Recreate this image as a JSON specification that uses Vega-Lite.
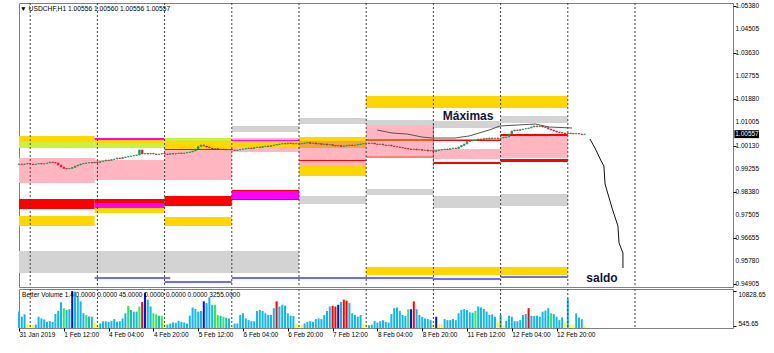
{
"$schema":"https://vega.github.io/schema/vega-lite/v6.json",
"background":"white",
"padding":{"left":17,"top":2,"right":0,"bottom":0},
"spacing":2,
"bounds":"flush",
"resolve":{"scale":{"color":"independent","x":"independent","y":"independent"}},
"config":{"view":{"stroke":"#808080","strokeWidth":1},"font":"Liberation Sans","scale":{"continuousPadding":0},"axis":{"labelFont":"Liberation Sans","labelFontSize":6.5,"labelColor":"#000","tickColor":"#000","tickSize":3,"domain":false,"grid":false,"title":null,"labelOverlap":false,"labelFlush":false}},
"datasets":{
"zonas":[
{"t0":0,"t1":100,"p0":0.95332,"p1":0.96160,"k":"F"},
{"t0":0,"t1":27,"p0":0.98719,"p1":0.99660,"k":"C"},
{"t0":27,"t1":52,"p0":0.98832,"p1":0.99585,"k":"C"},
{"t0":52,"t1":76,"p0":0.98832,"p1":0.99961,"k":"C"},
{"t0":76,"t1":100,"p0":0.99886,"p1":1.00412,"k":"C"},
{"t0":100,"t1":124,"p0":0.99359,"p1":1.00036,"k":"C"},
{"t0":124,"t1":148,"p0":0.99735,"p1":1.00902,"k":"C"},
{"t0":148,"t1":172,"p0":0.99622,"p1":0.99998,"k":"C"},
{"t0":172,"t1":196,"p0":0.99660,"p1":1.00488,"k":"C"},
{"t0":0,"t1":27,"p0":1.00262,"p1":1.00488,"k":"A"},
{"t0":0,"t1":27,"p0":1.00036,"p1":1.00262,"k":"B"},
{"t0":0,"t1":27,"p0":0.97740,"p1":0.98117,"k":"D"},
{"t0":0,"t1":27,"p0":0.97101,"p1":0.97477,"k":"A"},
{"t0":27,"t1":52,"p0":1.00337,"p1":1.00412,"k":"E"},
{"t0":27,"t1":52,"p0":1.00224,"p1":1.00337,"k":"A"},
{"t0":27,"t1":52,"p0":1.00036,"p1":1.00224,"k":"B"},
{"t0":27,"t1":52,"p0":0.97966,"p1":0.98117,"k":"D"},
{"t0":27,"t1":52,"p0":0.97778,"p1":0.97966,"k":"E"},
{"t0":27,"t1":52,"p0":0.97590,"p1":0.97778,"k":"A"},
{"t0":27,"t1":54,"p0":0.95115,"p1":0.95171,"k":"H"},
{"t0":52,"t1":76,"p0":1.00300,"p1":1.00412,"k":"B"},
{"t0":52,"t1":76,"p0":0.99998,"p1":1.00300,"k":"A"},
{"t0":52,"t1":76,"p0":0.99961,"p1":0.99998,"k":"D"},
{"t0":52,"t1":76,"p0":0.97853,"p1":0.98230,"k":"D"},
{"t0":52,"t1":76,"p0":0.97101,"p1":0.97439,"k":"A"},
{"t0":52,"t1":76,"p0":0.94965,"p1":0.95021,"k":"H"},
{"t0":76,"t1":100,"p0":1.00638,"p1":1.00864,"k":"F"},
{"t0":76,"t1":100,"p0":1.00036,"p1":1.00300,"k":"A"},
{"t0":76,"t1":100,"p0":1.00300,"p1":1.00337,"k":"E"},
{"t0":76,"t1":100,"p0":0.98079,"p1":0.98455,"k":"D"},
{"t0":76,"t1":100,"p0":0.98117,"p1":0.98418,"k":"E"},
{"t0":76,"t1":148,"p0":0.95115,"p1":0.95171,"k":"H"},
{"t0":100,"t1":124,"p0":1.00939,"p1":1.01165,"k":"F"},
{"t0":100,"t1":124,"p0":1.00300,"p1":1.00450,"k":"A"},
{"t0":100,"t1":124,"p0":1.00036,"p1":1.00300,"k":"G"},
{"t0":100,"t1":124,"p0":0.99547,"p1":0.99585,"k":"D"},
{"t0":100,"t1":124,"p0":0.98982,"p1":0.99359,"k":"A"},
{"t0":100,"t1":124,"p0":0.97928,"p1":0.98230,"k":"F"},
{"t0":124,"t1":196,"p0":1.01541,"p1":1.01993,"k":"A"},
{"t0":124,"t1":148,"p0":1.00902,"p1":1.01090,"k":"F"},
{"t0":124,"t1":148,"p0":1.00300,"p1":1.00375,"k":"I"},
{"t0":124,"t1":148,"p0":0.99679,"p1":0.99716,"k":"D"},
{"t0":124,"t1":148,"p0":0.98267,"p1":0.98493,"k":"F"},
{"t0":124,"t1":196,"p0":0.95257,"p1":0.95557,"k":"A"},
{"t0":148,"t1":172,"p0":1.00789,"p1":1.01052,"k":"F"},
{"t0":148,"t1":172,"p0":1.00300,"p1":1.00356,"k":"D"},
{"t0":148,"t1":172,"p0":0.99434,"p1":0.99509,"k":"D"},
{"t0":148,"t1":172,"p0":0.97778,"p1":0.98230,"k":"F"},
{"t0":148,"t1":172,"p0":0.95078,"p1":0.95134,"k":"H"},
{"t0":172,"t1":196,"p0":1.00977,"p1":1.01240,"k":"F"},
{"t0":172,"t1":196,"p0":1.00488,"p1":1.00563,"k":"D"},
{"t0":172,"t1":196,"p0":0.99509,"p1":0.99622,"k":"D"},
{"t0":172,"t1":196,"p0":0.97853,"p1":0.98305,"k":"F"},
{"t0":172,"t1":196,"p0":0.95153,"p1":0.95209,"k":"H"},
{"t0":147.8,"t1":148.2,"p0":0.99359,"p1":1.00977,"k":"J"}
],
"sep":[{"d":4},{"d":28},{"d":52},{"d":76},{"d":100},{"d":124},{"d":148},{"d":172},{"d":196},{"d":220}],
"precios":[{"v":1.0538},{"v":1.04505},{"v":1.0363},{"v":1.02755},{"v":1.0188},{"v":1.01005},{"v":1.0013},{"v":0.99255},{"v":0.9838},{"v":0.97505},{"v":0.96655},{"v":0.9578},{"v":0.94905}],
"maxl":[{"i":1,"h":127.9,"p":1.00713},{"i":2,"h":133.2,"p":1.00600},{"i":3,"h":138.6,"p":1.00563},{"i":4,"h":143.9,"p":1.00450},{"i":5,"h":147.5,"p":1.00412},{"i":6,"h":155.7,"p":1.00412},{"i":7,"h":160.7,"p":1.00488},{"i":8,"h":164.3,"p":1.00600},{"i":9,"h":167.9,"p":1.00713},{"i":10,"h":171.8,"p":1.00864},{"i":11,"h":184.3,"p":1.00939},{"i":12,"h":189.3,"p":1.00826},{"i":13,"h":197.5,"p":1.00789}],
"saldo":[{"i":1,"h":203.9,"p":1.00375},{"i":2,"h":205.7,"p":1.00036},{"i":3,"h":207.9,"p":0.99547},{"i":4,"h":208.9,"p":0.99359},{"i":5,"h":209.3,"p":0.98681},{"i":6,"h":211.8,"p":0.97778},{"i":7,"h":213.9,"p":0.97101},{"i":8,"h":214.3,"p":0.96461},{"i":9,"h":215.7,"p":0.96084},{"i":10,"h":215.7,"p":0.95520}],
"velas":[
{"h":0,"o":0.99415,"c":0.99434},{"h":1,"o":0.99434,"c":0.99415},{"h":2,"o":0.99415,"c":0.99434},{"h":3,"o":0.99434,"c":0.99453},{"h":4,"o":0.99453,"c":0.99434},{"h":5,"o":0.99434,"c":0.99415},{"h":6,"o":0.99415,"c":0.99434},{"h":7,"o":0.99434,"c":0.99453},{"h":8,"o":0.99453,"c":0.99434},{"h":9,"o":0.99434,"c":0.99453},
{"h":10,"o":0.99453,"c":0.99472},{"h":11,"o":0.99472,"c":0.99509},{"h":12,"o":0.99509,"c":0.99490},{"h":13,"o":0.99490,"c":0.99472},{"h":14,"o":0.99472,"c":0.99397},{"h":15,"o":0.99397,"c":0.99321},{"h":16,"o":0.99321,"c":0.99265},{"h":17,"o":0.99265,"c":0.99246},{"h":18,"o":0.99246,"c":0.99265},{"h":19,"o":0.99265,"c":0.99302},
{"h":20,"o":0.99302,"c":0.99359},{"h":21,"o":0.99359,"c":0.99397},{"h":22,"o":0.99397,"c":0.99434},{"h":23,"o":0.99434,"c":0.99453},{"h":24,"o":0.99453,"c":0.99472},{"h":25,"o":0.99472,"c":0.99490},{"h":26,"o":0.99490,"c":0.99472},{"h":27,"o":0.99472,"c":0.99509},{"h":28,"o":0.99509,"c":0.99490},{"h":29,"o":0.99490,"c":0.99528},
{"h":30,"o":0.99528,"c":0.99547},{"h":31,"o":0.99547,"c":0.99585},{"h":32,"o":0.99585,"c":0.99566},{"h":33,"o":0.99566,"c":0.99603},{"h":34,"o":0.99603,"c":0.99622},{"h":35,"o":0.99622,"c":0.99660},{"h":36,"o":0.99660,"c":0.99641},{"h":37,"o":0.99641,"c":0.99679},{"h":38,"o":0.99679,"c":0.99698},{"h":39,"o":0.99698,"c":0.99716},
{"h":40,"o":0.99716,"c":0.99735},{"h":41,"o":0.99735,"c":0.99754},{"h":42,"o":0.99754,"c":0.99773},{"h":43,"o":0.99773,"c":0.99961},{"h":44,"o":0.99961,"c":0.99810},{"h":45,"o":0.99810,"c":0.99829},{"h":46,"o":0.99829,"c":0.99810},{"h":47,"o":0.99810,"c":0.99829},{"h":48,"o":0.99829,"c":0.99810},{"h":49,"o":0.99810,"c":0.99791},
{"h":50,"o":0.99791,"c":0.99810},{"h":51,"o":0.99810,"c":0.99829},{"h":52,"o":0.99829,"c":0.99810},{"h":53,"o":0.99810,"c":0.99791},{"h":54,"o":0.99791,"c":0.99829},{"h":55,"o":0.99829,"c":0.99810},{"h":56,"o":0.99810,"c":0.99829},{"h":57,"o":0.99829,"c":0.99848},{"h":58,"o":0.99848,"c":0.99829},{"h":59,"o":0.99829,"c":0.99848},
{"h":60,"o":0.99848,"c":0.99867},{"h":61,"o":0.99867,"c":0.99886},{"h":62,"o":0.99886,"c":0.99923},{"h":63,"o":0.99923,"c":0.99998},{"h":64,"o":0.99998,"c":1.00092},{"h":65,"o":1.00092,"c":1.00149},{"h":66,"o":1.00149,"c":1.00111},{"h":67,"o":1.00111,"c":1.00074},{"h":68,"o":1.00074,"c":1.00036},{"h":69,"o":1.00036,"c":0.99998},
{"h":70,"o":0.99998,"c":1.00017},{"h":71,"o":1.00017,"c":0.99979},{"h":72,"o":0.99979,"c":0.99998},{"h":73,"o":0.99998,"c":0.99979},{"h":74,"o":0.99979,"c":0.99961},{"h":75,"o":0.99961,"c":0.99979},{"h":76,"o":0.99979,"c":0.99961},{"h":77,"o":0.99961,"c":0.99942},{"h":78,"o":0.99942,"c":0.99961},{"h":79,"o":0.99961,"c":0.99979},
{"h":80,"o":0.99979,"c":0.99998},{"h":81,"o":0.99998,"c":1.00017},{"h":82,"o":1.00017,"c":1.00036},{"h":83,"o":1.00036,"c":1.00017},{"h":84,"o":1.00017,"c":1.00055},{"h":85,"o":1.00055,"c":1.00074},{"h":86,"o":1.00074,"c":1.00055},{"h":87,"o":1.00055,"c":1.00092},{"h":88,"o":1.00092,"c":1.00111},{"h":89,"o":1.00111,"c":1.00092},
{"h":90,"o":1.00092,"c":1.00130},{"h":91,"o":1.00130,"c":1.00149},{"h":92,"o":1.00149,"c":1.00168},{"h":93,"o":1.00168,"c":1.00187},{"h":94,"o":1.00187,"c":1.00205},{"h":95,"o":1.00205,"c":1.00187},{"h":96,"o":1.00187,"c":1.00224},{"h":97,"o":1.00224,"c":1.00205},{"h":98,"o":1.00205,"c":1.00187},{"h":99,"o":1.00187,"c":1.00205},
{"h":100,"o":1.00205,"c":1.00187},{"h":101,"o":1.00187,"c":1.00205},{"h":102,"o":1.00205,"c":1.00224},{"h":103,"o":1.00224,"c":1.00243},{"h":104,"o":1.00243,"c":1.00205},{"h":105,"o":1.00205,"c":1.00224},{"h":106,"o":1.00224,"c":1.00187},{"h":107,"o":1.00187,"c":1.00205},{"h":108,"o":1.00205,"c":1.00168},{"h":109,"o":1.00168,"c":1.00187},
{"h":110,"o":1.00187,"c":1.00149},{"h":111,"o":1.00149,"c":1.00168},{"h":112,"o":1.00168,"c":1.00130},{"h":113,"o":1.00130,"c":1.00111},{"h":114,"o":1.00111,"c":1.00130},{"h":115,"o":1.00130,"c":1.00092},{"h":116,"o":1.00092,"c":1.00111},{"h":117,"o":1.00111,"c":1.00130},{"h":118,"o":1.00130,"c":1.00149},{"h":119,"o":1.00149,"c":1.00130},
{"h":120,"o":1.00130,"c":1.00149},{"h":121,"o":1.00149,"c":1.00168},{"h":122,"o":1.00168,"c":1.00187},{"h":123,"o":1.00187,"c":1.00205},{"h":124,"o":1.00205,"c":1.00224},{"h":125,"o":1.00224,"c":1.00205},{"h":126,"o":1.00205,"c":1.00224},{"h":127,"o":1.00224,"c":1.00187},{"h":128,"o":1.00187,"c":1.00168},{"h":129,"o":1.00168,"c":1.00187},
{"h":130,"o":1.00187,"c":1.00149},{"h":131,"o":1.00149,"c":1.00130},{"h":132,"o":1.00130,"c":1.00149},{"h":133,"o":1.00149,"c":1.00111},{"h":134,"o":1.00111,"c":1.00092},{"h":135,"o":1.00092,"c":1.00074},{"h":136,"o":1.00074,"c":1.00055},{"h":137,"o":1.00055,"c":1.00036},{"h":138,"o":1.00036,"c":1.00017},{"h":139,"o":1.00017,"c":0.99998},
{"h":140,"o":0.99998,"c":0.99979},{"h":141,"o":0.99979,"c":0.99998},{"h":142,"o":0.99998,"c":0.99961},{"h":143,"o":0.99961,"c":0.99979},{"h":144,"o":0.99979,"c":0.99942},{"h":145,"o":0.99942,"c":0.99961},{"h":146,"o":0.99961,"c":0.99923},{"h":147,"o":0.99923,"c":0.99942},{"h":148,"o":0.99942,"c":0.99904},{"h":149,"o":0.99904,"c":0.99942},
{"h":150,"o":0.99942,"c":0.99961},{"h":151,"o":0.99961,"c":0.99979},{"h":152,"o":0.99979,"c":0.99998},{"h":153,"o":0.99998,"c":0.99979},{"h":154,"o":0.99979,"c":1.00017},{"h":155,"o":1.00017,"c":1.00036},{"h":156,"o":1.00036,"c":1.00017},{"h":157,"o":1.00017,"c":1.00074},{"h":158,"o":1.00074,"c":1.00130},{"h":159,"o":1.00130,"c":1.00187},
{"h":160,"o":1.00187,"c":1.00281},{"h":161,"o":1.00281,"c":1.00300},{"h":162,"o":1.00300,"c":1.00318},{"h":163,"o":1.00318,"c":1.00337},{"h":164,"o":1.00337,"c":1.00375},{"h":165,"o":1.00375,"c":1.00356},{"h":166,"o":1.00356,"c":1.00393},{"h":167,"o":1.00393,"c":1.00375},{"h":168,"o":1.00375,"c":1.00412},{"h":169,"o":1.00412,"c":1.00393},
{"h":170,"o":1.00393,"c":1.00412},{"h":171,"o":1.00412,"c":1.00393},{"h":172,"o":1.00393,"c":1.00412},{"h":173,"o":1.00412,"c":1.00431},{"h":174,"o":1.00431,"c":1.00450},{"h":175,"o":1.00450,"c":1.00563},{"h":176,"o":1.00563,"c":1.00676},{"h":177,"o":1.00676,"c":1.00713},{"h":178,"o":1.00713,"c":1.00694},{"h":179,"o":1.00694,"c":1.00732},
{"h":180,"o":1.00732,"c":1.00751},{"h":181,"o":1.00751,"c":1.00770},{"h":182,"o":1.00770,"c":1.00789},{"h":183,"o":1.00789,"c":1.00826},{"h":184,"o":1.00826,"c":1.00864},{"h":185,"o":1.00864,"c":1.00845},{"h":186,"o":1.00845,"c":1.00864},{"h":187,"o":1.00864,"c":1.00826},{"h":188,"o":1.00826,"c":1.00807},{"h":189,"o":1.00807,"c":1.00751},
{"h":190,"o":1.00751,"c":1.00713},{"h":191,"o":1.00713,"c":1.00676},{"h":192,"o":1.00676,"c":1.00638},{"h":193,"o":1.00638,"c":1.00619},{"h":194,"o":1.00619,"c":1.00600},{"h":195,"o":1.00600,"c":1.00581},{"h":196,"o":1.00581,"c":1.00600},{"h":197,"o":1.00600,"c":1.00581},{"h":198,"o":1.00581,"c":1.00563},{"h":199,"o":1.00563,"c":1.00581},
{"h":200,"o":1.00581,"c":1.00563},{"h":201,"o":1.00563,"c":1.00544},{"h":202,"o":1.00544,"c":1.00557}
],
"vol":[
{"h":0,"v":4800,"t":"n"},{"h":1,"v":3300,"t":"n"},{"h":2,"v":4000,"t":"n"},{"h":3,"v":1300,"t":"lo"},{"h":4,"v":1000,"t":"lo"},{"h":5,"v":800,"t":"lo"},{"h":6,"v":1000,"t":"n"},{"h":7,"v":3300,"t":"n"},{"h":8,"v":2800,"t":"n"},{"h":9,"v":2500,"t":"n"},
{"h":10,"v":1800,"t":"n"},{"h":11,"v":2000,"t":"n"},{"h":12,"v":1800,"t":"n"},{"h":13,"v":4100,"t":"n"},{"h":14,"v":5000,"t":"n"},{"h":15,"v":7500,"t":"n"},{"h":16,"v":5800,"t":"ch"},{"h":17,"v":5300,"t":"n"},{"h":18,"v":5500,"t":"n"},{"h":19,"v":10828.65,"t":"cc"},
{"h":20,"v":10600,"t":"n"},{"h":21,"v":9300,"t":"n"},{"h":22,"v":7800,"t":"n"},{"h":23,"v":4300,"t":"n"},{"h":24,"v":3800,"t":"ch"},{"h":25,"v":3400,"t":"n"},{"h":26,"v":3300,"t":"n"},{"h":27,"v":1600,"t":"lo"},{"h":28,"v":1000,"t":"lo"},{"h":29,"v":1300,"t":"n"},
{"h":30,"v":2000,"t":"n"},{"h":31,"v":2000,"t":"n"},{"h":32,"v":1800,"t":"n"},{"h":33,"v":2000,"t":"n"},{"h":34,"v":2600,"t":"n"},{"h":35,"v":1800,"t":"n"},{"h":36,"v":2000,"t":"n"},{"h":37,"v":2800,"t":"n"},{"h":38,"v":4300,"t":"n"},{"h":39,"v":6500,"t":"ch"},
{"h":40,"v":5300,"t":"n"},{"h":41,"v":4800,"t":"n"},{"h":42,"v":4800,"t":"n"},{"h":43,"v":6300,"t":"ch"},{"h":44,"v":7600,"t":"cl"},{"h":45,"v":10300,"t":"cc"},{"h":46,"v":8300,"t":"n"},{"h":47,"v":6300,"t":"n"},{"h":48,"v":4300,"t":"ch"},{"h":49,"v":4000,"t":"ch"},
{"h":50,"v":3600,"t":"n"},{"h":51,"v":3500,"t":"ch"},{"h":52,"v":1300,"t":"lo"},{"h":53,"v":1000,"t":"n"},{"h":54,"v":1300,"t":"n"},{"h":55,"v":1600,"t":"n"},{"h":56,"v":1500,"t":"n"},{"h":57,"v":2100,"t":"n"},{"h":58,"v":1800,"t":"n"},{"h":59,"v":1600,"t":"n"},
{"h":60,"v":1300,"t":"n"},{"h":61,"v":3600,"t":"n"},{"h":62,"v":6000,"t":"n"},{"h":63,"v":5600,"t":"n"},{"h":64,"v":4800,"t":"n"},{"h":65,"v":5000,"t":"n"},{"h":66,"v":7800,"t":"cc"},{"h":67,"v":7300,"t":"n"},{"h":68,"v":9000,"t":"n"},{"h":69,"v":6800,"t":"n"},
{"h":70,"v":6800,"t":"ch"},{"h":71,"v":3800,"t":"ch"},{"h":72,"v":3600,"t":"n"},{"h":73,"v":3300,"t":"ch"},{"h":74,"v":3000,"t":"n"},{"h":75,"v":2800,"t":"n"},{"h":76,"v":800,"t":"lo"},{"h":77,"v":1300,"t":"n"},{"h":78,"v":1300,"t":"n"},{"h":79,"v":3800,"t":"n"},
{"h":80,"v":4300,"t":"n"},{"h":81,"v":2800,"t":"n"},{"h":82,"v":2300,"t":"n"},{"h":83,"v":2000,"t":"n"},{"h":84,"v":2000,"t":"n"},{"h":85,"v":5000,"t":"n"},{"h":86,"v":5300,"t":"n"},{"h":87,"v":5000,"t":"n"},{"h":88,"v":4300,"t":"n"},{"h":89,"v":3800,"t":"n"},
{"h":90,"v":3800,"t":"n"},{"h":91,"v":5800,"t":"n"},{"h":92,"v":7800,"t":"cl"},{"h":93,"v":6300,"t":"n"},{"h":94,"v":6800,"t":"n"},{"h":95,"v":6600,"t":"n"},{"h":96,"v":4300,"t":"n"},{"h":97,"v":3600,"t":"n"},{"h":98,"v":3500,"t":"n"},{"h":99,"v":1300,"t":"lo"},
{"h":100,"v":800,"t":"lo"},{"h":101,"v":800,"t":"lo"},{"h":102,"v":1300,"t":"n"},{"h":103,"v":1800,"t":"n"},{"h":104,"v":2000,"t":"n"},{"h":105,"v":1800,"t":"n"},{"h":106,"v":2600,"t":"n"},{"h":107,"v":2800,"t":"n"},{"h":108,"v":2600,"t":"n"},{"h":109,"v":3800,"t":"n"},
{"h":110,"v":5000,"t":"n"},{"h":111,"v":6300,"t":"n"},{"h":112,"v":6500,"t":"cl"},{"h":113,"v":6300,"t":"cl"},{"h":114,"v":6800,"t":"cc"},{"h":115,"v":7600,"t":"n"},{"h":116,"v":8300,"t":"cl"},{"h":117,"v":8000,"t":"cl"},{"h":118,"v":7300,"t":"n"},{"h":119,"v":4300,"t":"n"},
{"h":120,"v":3800,"t":"n"},{"h":121,"v":3300,"t":"n"},{"h":122,"v":3800,"t":"n"},{"h":123,"v":1300,"t":"lo"},{"h":124,"v":1000,"t":"lo"},{"h":125,"v":800,"t":"n"},{"h":126,"v":1000,"t":"n"},{"h":127,"v":2000,"t":"n"},{"h":128,"v":1600,"t":"n"},{"h":129,"v":2000,"t":"n"},
{"h":130,"v":2300,"t":"n"},{"h":131,"v":1800,"t":"n"},{"h":132,"v":1600,"t":"n"},{"h":133,"v":4100,"t":"n"},{"h":134,"v":5800,"t":"n"},{"h":135,"v":6000,"t":"n"},{"h":136,"v":5000,"t":"n"},{"h":137,"v":3800,"t":"n"},{"h":138,"v":3600,"t":"n"},{"h":139,"v":5500,"t":"ch"},
{"h":140,"v":5500,"t":"cc"},{"h":141,"v":7800,"t":"cl"},{"h":142,"v":5500,"t":"n"},{"h":143,"v":3800,"t":"n"},{"h":144,"v":3300,"t":"n"},{"h":145,"v":2800,"t":"n"},{"h":146,"v":2600,"t":"n"},{"h":147,"v":2300,"t":"n"},{"h":148,"v":1300,"t":"lo"},{"h":149,"v":3300,"t":"cc"},
{"h":150,"v":1000,"t":"lo"},{"h":151,"v":1000,"t":"lo"},{"h":152,"v":2600,"t":"n"},{"h":153,"v":2300,"t":"n"},{"h":154,"v":2300,"t":"n"},{"h":155,"v":2600,"t":"n"},{"h":156,"v":2300,"t":"n"},{"h":157,"v":4300,"t":"n"},{"h":158,"v":5300,"t":"n"},{"h":159,"v":5500,"t":"n"},
{"h":160,"v":5300,"t":"n"},{"h":161,"v":4600,"t":"n"},{"h":162,"v":4500,"t":"n"},{"h":163,"v":5000,"t":"ch"},{"h":164,"v":6300,"t":"n"},{"h":165,"v":6000,"t":"n"},{"h":166,"v":5600,"t":"n"},{"h":167,"v":4800,"t":"n"},{"h":168,"v":3800,"t":"n"},{"h":169,"v":4000,"t":"n"},
{"h":170,"v":3300,"t":"n"},{"h":171,"v":1800,"t":"lo"},{"h":172,"v":3800,"t":"n"},{"h":173,"v":800,"t":"lo"},{"h":174,"v":2100,"t":"n"},{"h":175,"v":3600,"t":"n"},{"h":176,"v":3300,"t":"n"},{"h":177,"v":2000,"t":"n"},{"h":178,"v":2000,"t":"n"},{"h":179,"v":2300,"t":"n"},
{"h":180,"v":3800,"t":"n"},{"h":181,"v":4100,"t":"n"},{"h":182,"v":5800,"t":"cl"},{"h":183,"v":3600,"t":"n"},{"h":184,"v":3500,"t":"n"},{"h":185,"v":3600,"t":"n"},{"h":186,"v":3300,"t":"n"},{"h":187,"v":4800,"t":"n"},{"h":188,"v":5100,"t":"n"},{"h":189,"v":5800,"t":"n"},
{"h":190,"v":4300,"t":"ch"},{"h":191,"v":4100,"t":"n"},{"h":192,"v":3300,"t":"n"},{"h":193,"v":2300,"t":"n"},{"h":194,"v":3100,"t":"n"},{"h":195,"v":1600,"t":"lo"},{"h":196,"v":8600,"t":"n"},{"h":197,"v":1000,"t":"lo"},{"h":198,"v":1000,"t":"lo"},{"h":199,"v":4300,"t":"n"},
{"h":200,"v":3100,"t":"n"},{"h":201,"v":2600,"t":"n"},{"h":202,"v":545.65,"t":"lo"}
]
},
"vconcat":[
{
"width":714,"height":284,
"layer":[
{"data":{"name":"zonas"},"mark":{"type":"rect"},"encoding":{
"x":{"field":"t0","type":"quantitative","scale":{"domain":[0,255],"nice":false,"zero":false,"padding":0},"axis":null},
"x2":{"field":"t1"},
"y":{"field":"p0","type":"quantitative","title":null,"scale":{"domain":[0.94805,1.05493],"nice":false,"zero":false,"padding":0},"axis":{"orient":"right","values":[1.0538,1.04505,1.0363,1.02755,1.0188,1.01005,1.0013,0.99255,0.9838,0.97505,0.96655,0.9578,0.94905],"labels":false,"ticks":true}},
"y2":{"field":"p1"},
"color":{"field":"k","type":"nominal","legend":null,"scale":{"domain":["A","B","C","D","E","F","G","H","I","J"],"range":["#ffd700","#cdf03a","#ffb6c1","#ff0000","#ff00ff","#d3d3d3","#f5a442","#3a3aff","#e8601c","#f07080"]}}
}},
{"data":{"name":"sep"},"mark":{"type":"rule","strokeDash":[2,2],"color":"#404040","strokeWidth":1},"encoding":{"x":{"field":"d","type":"quantitative"}}},
{"mark":{"type":"rule","color":"#7a8a9a","strokeWidth":1},"encoding":{"y":{"datum":1.00557,"type":"quantitative"}}},
{"data":{"name":"maxl"},"mark":{"type":"line","color":"#555555","strokeWidth":1},"encoding":{"x":{"field":"h","type":"quantitative"},"y":{"field":"p","type":"quantitative","title":null},"order":{"field":"i"}}},
{"data":{"name":"saldo"},"mark":{"type":"line","color":"#111111","strokeWidth":1},"encoding":{"x":{"field":"h","type":"quantitative"},"y":{"field":"p","type":"quantitative","title":null},"order":{"field":"i"}}},
{"data":{"name":"velas"},"mark":{"type":"bar","size":1.6,"strokeWidth":0.7},"encoding":{
"x":{"field":"h","type":"quantitative"},
"y":{"field":"o","type":"quantitative","title":null},
"y2":{"field":"c"},
"color":{"condition":{"test":"datum.c >= datum.o","value":"#1f9950"},"value":"#e3173e"},
"stroke":{"condition":{"test":"datum.c >= datum.o","value":"#1f9950"},"value":"#e3173e"}
}},
{"data":{"values":[{"h":160.4,"p":1.0124,"s":"Máximas"},{"h":208.2,"p":0.95143,"s":"saldo"}]},"mark":{"type":"text","font":"Liberation Sans","fontSize":12,"fontWeight":"bold","color":"#141438","align":"center","baseline":"middle"},"encoding":{"x":{"field":"h","type":"quantitative"},"y":{"field":"p","type":"quantitative","title":null},"text":{"field":"s"}}},
{"data":{"values":[{"h":0.4,"p":1.05267,"s":"▼ USDCHF,H1  1.00556 1.00560 1.00556 1.00557"}]},"mark":{"type":"text","font":"Liberation Sans","fontSize":6.7,"color":"#000","align":"left","baseline":"middle"},"encoding":{"x":{"field":"h","type":"quantitative"},"y":{"field":"p","type":"quantitative","title":null},"text":{"field":"s"}}},
{"data":{"name":"precios"},"mark":{"type":"text","font":"Liberation Sans","fontSize":6.5,"color":"#000","align":"left","baseline":"middle"},"encoding":{"x":{"datum":255.9,"type":"quantitative"},"y":{"field":"v","type":"quantitative","title":null},"text":{"field":"v","type":"quantitative","format":".5f"}}},
{"data":{"values":[{"a":255.5,"b":264.3,"lo":1.00407,"hi":1.00707}]},"mark":{"type":"rect","color":"#000"},"encoding":{"x":{"field":"a","type":"quantitative"},"x2":{"field":"b"},"y":{"field":"lo","type":"quantitative","title":null},"y2":{"field":"hi"}}},
{"data":{"values":[{"h":255.8,"p":1.00557,"s":"1.00557"}]},"mark":{"type":"text","font":"Liberation Sans","fontSize":6.5,"color":"#fff","align":"left","baseline":"middle"},"encoding":{"x":{"field":"h","type":"quantitative"},"y":{"field":"p","type":"quantitative","title":null},"text":{"field":"s"}}}
]
},
{
"width":714,"height":39,
"layer":[
{"data":{"name":"vol"},"mark":{"type":"bar","size":2},"encoding":{
"x":{"field":"h","type":"quantitative","scale":{"domain":[0,255],"nice":false,"zero":false,"padding":0},"axis":{"values":[0,16,32,48,64,80,96,112,128,144,160,176,192],"labelExpr":"['31 Jan 2019','1 Feb 12:00','4 Feb 04:00','4 Feb 20:00','5 Feb 12:00','6 Feb 04:00','6 Feb 20:00','7 Feb 12:00','8 Feb 04:00','8 Feb 20:00','11 Feb 12:00','12 Feb 04:00','12 Feb 20:00'][round(datum.value/16)]","labelAlign":"left","labelPadding":0,"labelOverlap":false}},
"y":{"field":"v","type":"quantitative","title":null,"scale":{"domain":[0,11414],"nice":false,"padding":0},"axis":{"orient":"right","values":[545.65,10828.65],"format":".2f","labelPadding":2,"labelOverlap":false,"labelBaseline":{"condition":{"test":"datum.value > 5000","value":"top"},"value":"bottom"}}},
"color":{"field":"t","type":"nominal","legend":null,"scale":{"domain":["n","lo","cl","ch","cc"],"range":["#12b6f0","#ffff00","#ff0000","#33ee33","#0a0aff"]}}
}},
{"data":{"name":"sep"},"mark":{"type":"rule","strokeDash":[2,2],"color":"#404040","strokeWidth":1},"encoding":{"x":{"field":"d","type":"quantitative"}}},
{"data":{"values":[{"h":1.1,"v":9659,"s":"Better Volume 1.4 0.0000 0.0000 45.0000 0.0000 0.0000 0.0000 3255.0000"}]},"mark":{"type":"text","font":"Liberation Sans","fontSize":6.5,"color":"#000","align":"left","baseline":"middle"},"encoding":{"x":{"field":"h","type":"quantitative"},"y":{"field":"v","type":"quantitative","title":null},"text":{"field":"s"}}}
]
}
]
}
